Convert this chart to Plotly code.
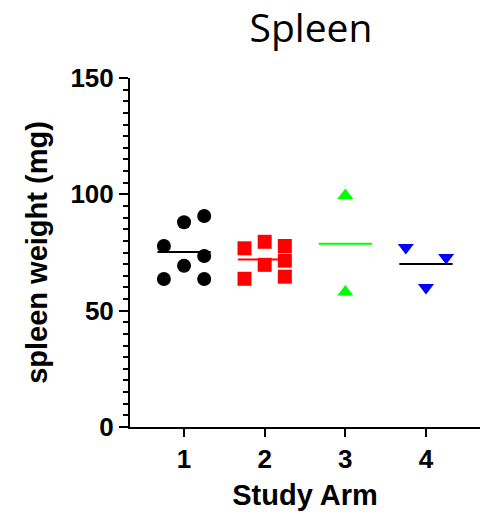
import numpy as np
import plotly.graph_objects as go

# ---- data ----
arms = [1, 2, 3, 4]
arm1_values = [77.8, 88.0, 90.7, 73.5, 69.3, 63.6, 63.6]
arm2_values = [76.8, 79.6, 77.8, 63.7, 69.7, 71.5, 64.6]
arm3_values = [99.5, 58.0]
arm4_values = [77.2, 72.9, 60.0]
tick_labels = ["1", "2", "3", "4"]

# column arrangement of the scatter within each arm (-1 left, 0 centre, 1 right)
arm1_cols = [-1, 0, 1, 1, 0, -1, 1]
arm2_cols = [-1, 0, 1, -1, 0, 1, 1]
arm3_cols = [0, 0]
arm4_cols = [-1, 1, 0]

# (arm, values, columns, marker colour, mean-line colour, symbol, size)
groups = [
    (arms[0], arm1_values, arm1_cols, "#000000", "#000000", "circle", 14),
    (arms[1], arm2_values, arm2_cols, "#FF0000", "#FF0000", "square", 14),
    (arms[2], arm3_values, arm3_cols, "#00FF00", "#00FF00", "triangle-up", 14),
    (arms[3], arm4_values, arm4_cols, "#0000FF", "#000000", "triangle-down", 14),
]

col_step = 0.25
half_line = 0.33

fig = go.Figure()

for arm, vals, cols, color, lcolor, sym, size in groups:
    m = float(np.mean(vals))
    fig.add_trace(go.Scatter(
        x=[arm - half_line, arm + half_line], y=[m, m], mode="lines",
        line=dict(color=lcolor, width=2), showlegend=False, hoverinfo="skip"))

for arm, vals, cols, color, lcolor, sym, size in groups:
    xs = [arm + c * col_step for c in cols]
    fig.add_trace(go.Scatter(
        x=xs, y=vals, mode="markers",
        marker=dict(symbol=sym, size=size, color=color, line=dict(width=0)),
        showlegend=False))

fig.update_layout(
    width=480, height=514,
    margin=dict(l=130, r=0, t=78, b=87),
    paper_bgcolor="white", plot_bgcolor="white",
    title=dict(text="Spleen", x=311 / 480, xanchor="center",
               xref="container", yref="container", y=1 - 28 / 514, yanchor="middle",
               font=dict(family="Open Sans", size=39, color="black")),
)

fig.update_xaxes(
    range=[0.33, 4.67], tickvals=arms, ticktext=tick_labels,
    showgrid=False, zeroline=False,
    showline=True, linecolor="black", linewidth=2,
    ticks="outside", ticklen=8, tickwidth=2, tickcolor="black",
    tickfont=dict(family="Liberation Sans", size=26, color="black", weight="bold"),
    title=dict(text="<b>Study Arm</b>", standoff=11,
               font=dict(family="Liberation Sans", size=29, color="black")),
)

fig.update_yaxes(
    range=[0, 150], tickvals=[0, 50, 100, 150],
    showgrid=False, zeroline=False,
    showline=True, linecolor="black", linewidth=2,
    ticks="outside", ticklen=9, tickwidth=2, tickcolor="black",
    minor=dict(dtick=5, ticks="outside", ticklen=5, tickwidth=2, tickcolor="black", showgrid=False),
    tickfont=dict(family="Liberation Sans", size=26, color="black", weight="bold"),
    title=dict(text="<b>spleen weight (mg)</b>", standoff=14,
               font=dict(family="Liberation Sans", size=29, color="black")),
)

fig.write_html("out.html")
